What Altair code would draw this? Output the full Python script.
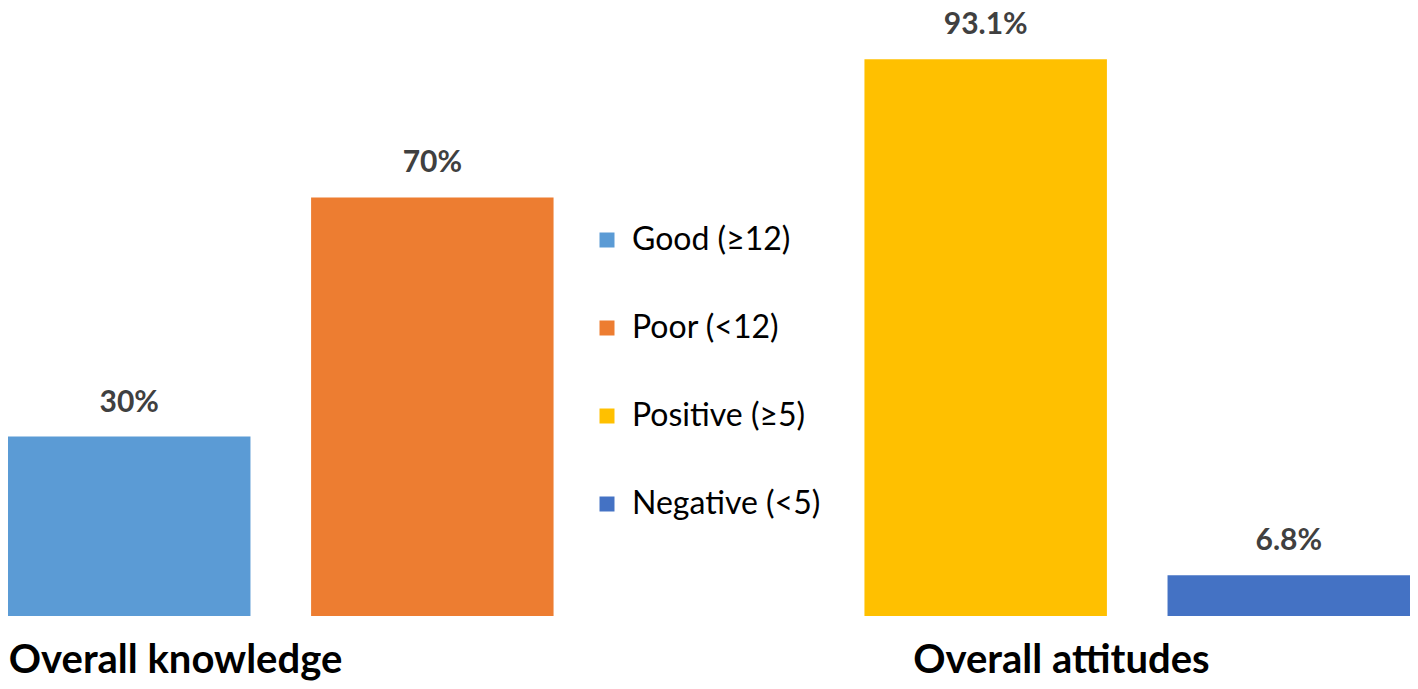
import altair as alt
import pandas as pd

groups = ["Overall knowledge", "Overall knowledge", "Overall  attitudes", "Overall  attitudes"]
group_order = ["Overall knowledge", "Overall  attitudes"]
categories = ["Good (≥12)", "Poor (<12)", "Positive (≥5)", "Negative (<5)"]
slots = ["first", "second", "first", "second"]
values = [30, 70, 93.1, 6.8]
colors = ["#5B9BD5", "#ED7D31", "#FFC000", "#4472C4"]

df = pd.DataFrame({"group": groups, "category": categories, "slot": slots, "value": values})

FONT = "Lato"

x_enc = alt.X(
    "group:N",
    sort=group_order,
    scale=alt.Scale(paddingInner=0.363, paddingOuter=0),
    axis=alt.Axis(
        title=None, domain=False, ticks=False, labelAngle=0, labelLimit=0,
        labelFont=FONT, labelFontSize=40, labelFontWeight="bold", labelColor="#000000",
        labelAlign="left", labelBaseline="top", labelPadding=24,
        labelOffset=alt.ExprRef("datum.label == 'Overall knowledge' ? -272 : -224"),
    ),
)
xo_enc = alt.XOffset("slot:N", sort=["first", "second"], scale=alt.Scale(paddingInner=0.2, paddingOuter=0))
y_enc = alt.Y("value:Q", scale=alt.Scale(domain=[0, 100], nice=False), axis=None)

bars = alt.Chart(df).mark_bar().encode(
    x=x_enc, xOffset=xo_enc, y=y_enc,
    color=alt.Color(
        "category:N",
        scale=alt.Scale(domain=categories, range=colors),
        legend=alt.Legend(
            title=None, orient="none", legendX=583, legendY=206,
            symbolType="square", symbolSize=225, symbolStrokeWidth=0,
            labelFont=FONT, labelFontSize=32, labelColor="#000000", labelLimit=0,
            labelOffset=9, rowPadding=56,
        ),
    ),
)

labels = alt.Chart(df).transform_calculate(
    label="datum.value + '%'"
).mark_text(
    baseline="alphabetic", dy=-25, font=FONT, fontSize=30, fontWeight="bold", color="#404040"
).encode(x=x_enc, xOffset=xo_enc, y=y_enc, text="label:N")

chart = alt.layer(bars, labels).properties(
    width=1402, height=598,
    autosize=alt.AutoSizeParams(type="none"),
    padding={"left": 0, "right": 0, "top": 10, "bottom": 65},
).configure_view(stroke=None)

chart.save("out.html", embed_options={"renderer": "svg", "actions": False})
